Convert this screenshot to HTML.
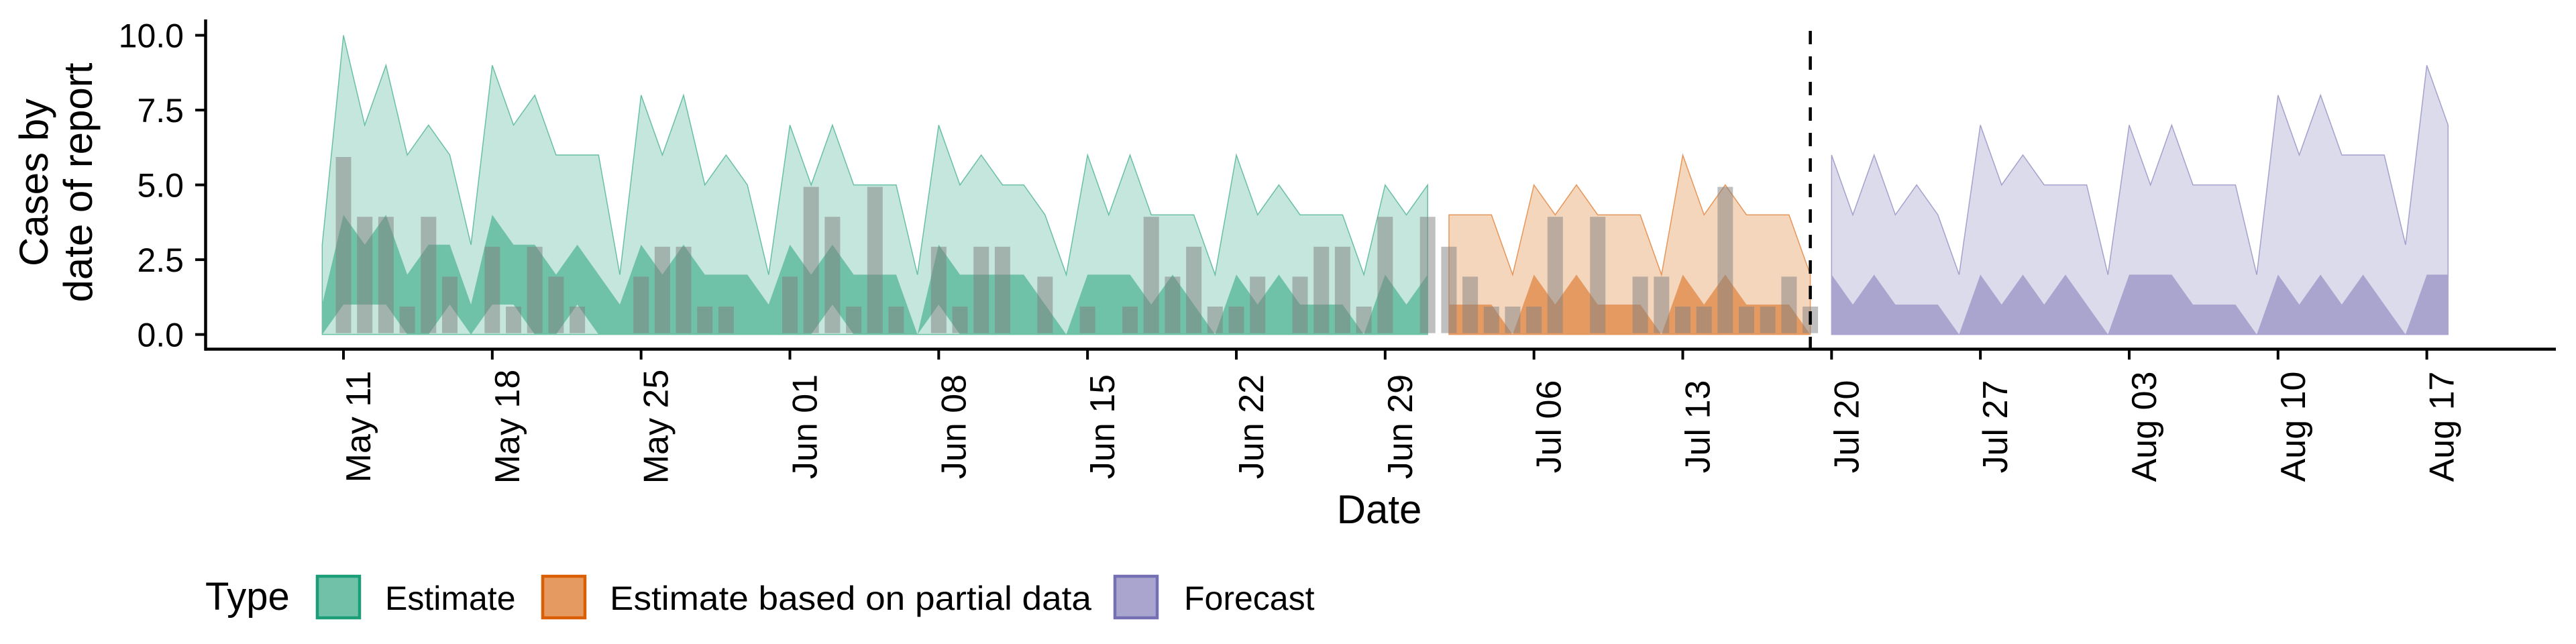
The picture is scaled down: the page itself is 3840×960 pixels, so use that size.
<!DOCTYPE html>
<html><head><meta charset="utf-8">
<style>
html,body{margin:0;padding:0;background:#fff;}
svg{display:block;font-family:"Liberation Sans",Arial,sans-serif;}
</style></head>
<body>
<svg id="chart" width="3840" height="960" viewBox="0 0 3840 960" xmlns="http://www.w3.org/2000/svg">
  <g id="ribbons"></g>
  <g id="bars"></g>
  <g id="axes"></g>
  <text transform="translate(71,272) rotate(-90)" text-anchor="middle" font-size="60">Cases by</text>
  <text transform="translate(137,272) rotate(-90)" text-anchor="middle" font-size="60">date of report</text>
  <text x="2056" y="780" text-anchor="middle" font-size="60">Date</text>
  <g>
    <text x="306" y="909" font-size="58">Type</text>
    <rect x="473" y="859" width="63" height="62" fill="#70c1a8" stroke="#1b9e77" stroke-width="4.5"/>
    <text x="574" y="909" font-size="50">Estimate</text>
    <rect x="809" y="859" width="63" height="62" fill="#e59a62" stroke="#d95f02" stroke-width="4.5"/>
    <text x="909" y="909" font-size="50" textLength="718" lengthAdjust="spacingAndGlyphs">Estimate based on partial data</text>
    <rect x="1662" y="859" width="63" height="62" fill="#a9a5cf" stroke="#7570b3" stroke-width="4.5"/>
    <text x="1765" y="909" font-size="50">Forecast</text>
  </g>
</svg>
<script>
// ---- data (day offsets relative to 11 May) ----
const estStart = -1;
const estOuterUpper = [3,10,7,9,6,7,6,3,9,7,8,6,6,6,2,8,6,8,5,6,5,2,7,5,7,5,5,5,2,7,5,6,5,5,4,2,6,4,6,4,4,4,2,6,4,5,4,4,4,2,5,4,5];
const estInnerUpper = [1,4,3,4,2,3,3,1,4,3,3,2,3,2,1,3,2,3,2,2,2,1,3,2,3,2,2,2,0,3,2,2,2,2,1,0,2,2,2,1,2,1,0,2,1,2,1,1,1,0,2,1,2];
const estInnerLower = [0,1,1,1,0,0,1,0,1,1,0,0,1,0,0,0,0,0,0,0,0,0,0,0,1,0,0,0,0,1,0,0,0,0,0,0,0,0,0,0,0,0,0,0,0,0,0,0,0,0,0,0,0];
const partStart = 52;
const partOuterUpper = [4,4,4,2,5,4,5,4,4,4,2,6,4,5,4,4,4,2];
const partInnerUpper = [1,1,1,0,2,1,2,1,1,1,0,2,1,2,1,1,1,0];
const foreStart = 70;
const foreOuterUpper = [6,4,6,4,5,4,2,7,5,6,5,5,5,2,7,5,7,5,5,5,2,8,6,8,6,6,6,3,9,7];
const foreInnerUpper = [2,1,2,1,1,1,0,2,1,2,1,2,1,0,2,2,2,1,1,1,0,2,1,2,1,2,1,0,2,2];
const barStart = 0;
const reportedCases = [6,4,4,1,4,2,0,3,1,3,2,1,0,0,2,3,3,1,1,0,0,2,5,4,1,5,1,0,3,1,3,3,0,2,0,1,0,1,4,2,3,1,1,2,0,2,3,3,1,4,0,4,3,2,1,1,1,4,0,4,0,2,2,1,1,5,1,1,2,1];
const xTickDays = [0,7,14,21,28,35,42,49,56,63,70,77,84,91,98];
const xTickLabels = ["May 11","May 18","May 25","Jun 01","Jun 08","Jun 15","Jun 22","Jun 29","Jul 06","Jul 13","Jul 20","Jul 27","Aug 03","Aug 10","Aug 17"];
const yTicks = [0,2.5,5,7.5,10];
const yTickLabels = ["0.0","2.5","5.0","7.5","10.0"];
const forecastDate = 69;

// ---- scales ----
const NS = "http://www.w3.org/2000/svg";
function xs(d){ return 512 + d*31.69; }
function ys(v){ return 498.6 - v*44.6; }
function mk(tag, attrs, parent){
  const el = document.createElementNS(NS, tag);
  for (const k in attrs) el.setAttribute(k, attrs[k]);
  parent.appendChild(el);
  return el;
}
function ribbonPts(start, lower, upper){
  const top = upper.map((v,i)=>xs(start+i).toFixed(1)+","+ys(v).toFixed(1));
  const bot = lower.map((v,i)=>xs(start+i).toFixed(1)+","+ys(v).toFixed(1)).reverse();
  return top.concat(bot).join(" ");
}
const rib = document.getElementById("ribbons");
function drawGroup(name, start, outerU, innerL, innerU, light, dark, line){
  const zeros = outerU.map(()=>0);
  const o = mk("polygon", {points: ribbonPts(start, zeros, outerU), fill: light, stroke: line, "stroke-width": 1.5, "stroke-opacity": 0.6}, rib);
  
  
  const inn = mk("polygon", {points: ribbonPts(start, innerL, innerU), fill: dark}, rib);
  
  
}
drawGroup("estimate", estStart, estOuterUpper, estInnerLower, estInnerUpper, "#c4e6dc", "#6fc1a7", "#1b9e77");
drawGroup("partial", partStart, partOuterUpper, partOuterUpper.map(()=>0), partInnerUpper, "#f4d6bc", "#e59a62", "#d95f02");
drawGroup("forecast", foreStart, foreOuterUpper, foreOuterUpper.map(()=>0), foreInnerUpper, "#dcdbeb", "#a9a5cf", "#7570b3");

// ---- bars ----
const barsG = document.getElementById("bars");
reportedCases.forEach((v,i)=>{
  if (v <= 0) return;
  const cx = xs(barStart+i);
  const r = mk("rect", {x:(cx-11.5).toFixed(1), y:(ys(v)+3).toFixed(1), width:23, height:(ys(0)-2-ys(v)-3).toFixed(1), fill:"rgba(128,128,128,0.5)"}, barsG);
  
  
});

// ---- axes ----
const ax = document.getElementById("axes");
const xl = mk("line", {x1:306, y1:520.5, x2:3810, y2:520.5, stroke:"#000", "stroke-width":4.5}, ax);


const yl = mk("line", {x1:306.5, y1:29, x2:306.5, y2:522.7, stroke:"#000", "stroke-width":4.5}, ax);


yTicks.forEach((v,i)=>{
  const t = mk("line", {x1:291, y1:ys(v), x2:306, y2:ys(v), stroke:"#000", "stroke-width":4}, ax);
  
  
  const lb = mk("text", {x:274, y:ys(v)+18, "text-anchor":"end", "font-size":50}, ax);
  lb.textContent = yTickLabels[i];
  
  
});
xTickDays.forEach((d,i)=>{
  const x = xs(d);
  const t = mk("line", {x1:x, y1:522, x2:x, y2:536, stroke:"#000", "stroke-width":4}, ax);
  
  
  const lb = mk("text", {transform:"translate("+(x+40).toFixed(1)+",636) rotate(-90)", "text-anchor":"middle", "font-size":52}, ax);
  lb.textContent = xTickLabels[i];
  
  
});
const dl = mk("line", {x1:xs(forecastDate), y1:46, x2:xs(forecastDate), y2:520, stroke:"#000", "stroke-width":4.5, "stroke-dasharray":"20 18"}, ax);


</script>
</body></html>
